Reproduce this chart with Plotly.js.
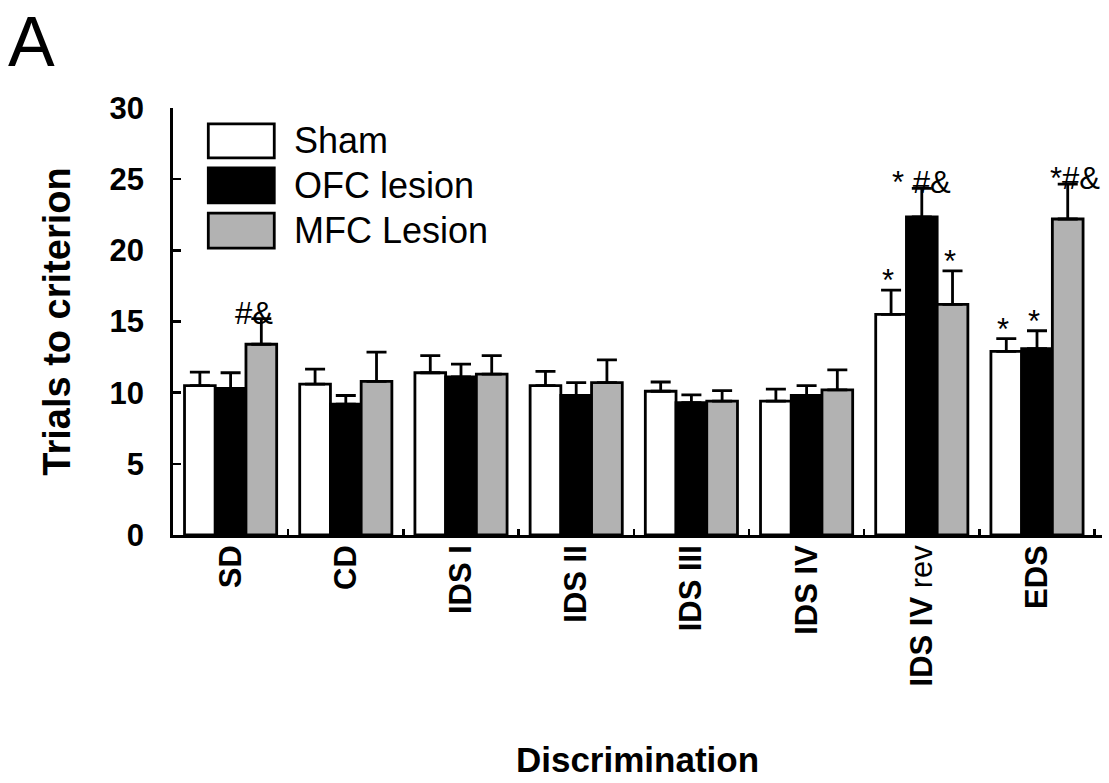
<!DOCTYPE html>
<html>
<head>
<meta charset="utf-8">
<script src="https://cdn.plot.ly/plotly-3.0.1.min.js"></script>
<style>html,body{margin:0;padding:0;background:#fff;}#chart{width:1109px;height:783px;}</style>
</head>
<body>
<div id="chart"></div>
<script>
// ---- data ----
const categories = ["SD", "CD", "IDS I", "IDS II", "IDS III", "IDS IV", "IDS IV rev", "EDS"];
const tickLabels = ["<b>SD</b>", "<b>CD</b>", "<b>IDS I</b>", "<b>IDS II</b>", "<b>IDS III</b>", "<b>IDS IV</b>", "<b>IDS IV</b> rev", "<b>EDS</b>"];
const seriesNames = ["Sham", "OFC lesion", "MFC Lesion"];
const shamMean = [10.5, 10.6, 11.4, 10.5, 10.1, 9.4, 15.5, 12.9];
const shamErr  = [0.95, 1.05, 1.2, 1.0, 0.65, 0.85, 1.7, 0.9];
const ofcMean  = [10.3, 9.2, 11.1, 9.8, 9.3, 9.8, 22.35, 13.1];
const ofcErr   = [1.1, 0.6, 0.9, 0.9, 0.55, 0.7, 2.0, 1.25];
const mfcMean  = [13.4, 10.8, 11.3, 10.7, 9.4, 10.2, 16.2, 22.2];
const mfcErr   = [1.8, 2.05, 1.3, 1.6, 0.75, 1.4, 2.35, 2.45];
// significance marks: [category, series index, text]
const sigCats   = ["SD", "IDS IV rev", "IDS IV rev", "IDS IV rev", "EDS", "EDS", "EDS"];
const sigSeries = [2, 0, 1, 2, 0, 1, 2];
const sigText   = ["#&", "*", "* #&", "*", "*", "*", "*#&"];

const FONT = "Liberation Sans, Arial, Helvetica, sans-serif";
const fills = ["#ffffff", "#000000", "#b2b2b2"];
const means = [shamMean, ofcMean, mfcMean];
const errs = [shamErr, ofcErr, mfcErr];

const traces = seriesNames.map((name, i) => ({
  type: "bar",
  name: name,
  x: categories,
  y: means[i],
  marker: {color: fills[i], line: {color: "#000", width: 2.8}},
  error_y: {type: "data", symmetric: false, array: errs[i], arrayminus: errs[i].map(() => 0),
            color: "#000", thickness: 2.8, width: 10},
  showlegend: false,
  hoverinfo: "x+y"
}));

// bar offsets in px within a group (3 bars, bargap 0.2, 116px groups)
const barShift = [-31, 0, 31];
const sigTweakX = {"#&": -8, "* #&": 0, "*#&": 7, "*": -3};
const annotations = sigCats.map((c, k) => {
  const s = sigSeries[k];
  const idx = categories.indexOf(c);
  const t = sigText[k];
  return {
    x: c, y: means[s][idx] + errs[s][idx], xref: "x", yref: "y",
    text: t, showarrow: false, xanchor: "center", yanchor: "bottom",
    xshift: barShift[s] + (sigTweakX[t] || 0), yshift: t === "*" ? -10 : -14,
    font: {family: FONT, size: 31, color: "#000"}
  };
});

// legend drawn as large boxes like the reference
const legendY = [[0.963, 0.883], [0.860, 0.778], [0.754, 0.672]];
const shapes = seriesNames.map((n, i) => ({
  type: "rect", xref: "paper", yref: "paper",
  x0: 0.038, x1: 0.109, y0: legendY[i][1], y1: legendY[i][0],
  fillcolor: fills[i], line: {color: "#000", width: 2.8}
}));
seriesNames.forEach((n, i) => annotations.push({
  xref: "paper", yref: "paper", x: 0.128, y: (legendY[i][0] + legendY[i][1]) / 2,
  text: n, showarrow: false, xanchor: "left", yanchor: "middle",
  font: {family: FONT, size: 36, color: "#000"}
}));
annotations.push({
  xref: "paper", yref: "paper", x: -0.179, y: 1.249, text: "A", showarrow: false,
  xanchor: "left", yanchor: "top", borderpad: 0, font: {family: FONT, size: 70, color: "#000"}
});

const layout = {
  width: 1109, height: 783,
  margin: {l: 173, r: 7, t: 108, b: 248},
  paper_bgcolor: "#fff", plot_bgcolor: "#fff",
  barmode: "group", bargap: 0.2, bargroupgap: 0,
  font: {family: FONT, color: "#000"},
  xaxis: {
    type: "category", tickmode: "array", tickvals: categories, ticktext: tickLabels,
    tickangle: -90, tickfont: {family: FONT, size: 31, color: "#000"},
    ticklabelstandoff: -5,
    showline: true, linecolor: "#000", linewidth: 2.8,
    ticks: "inside", tickson: "boundaries", ticklen: 6, tickwidth: 2.5, tickcolor: "#000",
    showgrid: false, zeroline: false,
    title: {text: "<b>Discrimination</b>", font: {family: FONT, size: 35, color: "#000"}, standoff: 62}
  },
  yaxis: {
    range: [0, 30], dtick: 5, tick0: 0,
    tickfont: {family: FONT, size: 31, color: "#000", weight: "bold"},
    showline: true, linecolor: "#000", linewidth: 2.8,
    ticks: "inside", ticklen: 8, tickwidth: 2.5, tickcolor: "#000",
    ticklabelstandoff: 20,
    showgrid: false, zeroline: false,
    title: {text: "<b>Trials to criterion</b>", font: {family: FONT, size: 38, color: "#000"}, standoff: 28}
  },
  shapes: shapes,
  annotations: annotations,
  showlegend: false
};

Plotly.newPlot("chart", traces, layout, {displayModeBar: false, staticPlot: true});
</script>
</body>
</html>
